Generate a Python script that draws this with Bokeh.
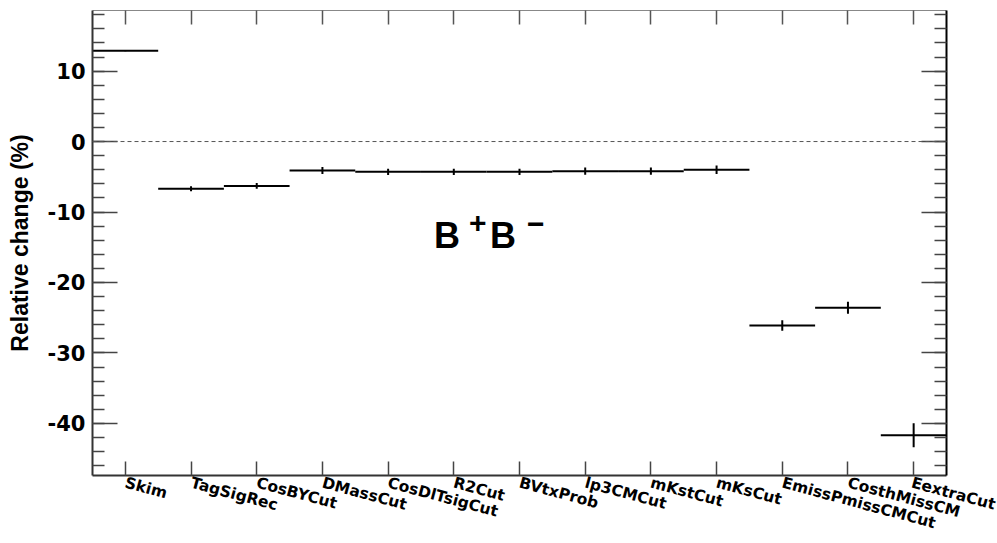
import math
import numpy as np
from bokeh.plotting import figure
from bokeh.models import FixedTicker, LinearAxis, Span, Label, Range1d, CustomJSTickFormatter
from bokeh.embed import file_html
from bokeh.resources import INLINE

# ---- data ----
cuts = ["Skim", "TagSigRec", "CosBYCut", "DMassCut", "CosDlTsigCut", "R2Cut", "BVtxProb",
        "lp3CMCut", "mKstCut", "mKsCut", "EmissPmissCMCut", "CosthMissCM", "EextraCut"]
rel_change = [12.9, -6.7, -6.3, -4.1, -4.3, -4.3, -4.3, -4.2, -4.2, -4.0, -26.1, -23.6, -41.7]
rel_error = [0.1, 0.35, 0.4, 0.5, 0.45, 0.45, 0.45, 0.5, 0.5, 0.6, 0.75, 0.85, 1.7]
y_ticks = [-40, -30, -20, -10, 0, 10]
y_tick_labels = ["-40", "-30", "-20", "-10", "0", "10"]
y_minor = list(range(-48, 19, 2))
y_min, y_max = -47.4, 18.6

n = len(cuts)
left = np.arange(n, dtype=float)
right = left + 1.0
centers = left + 0.5
vals = np.array(rel_change)
errs = np.array(rel_error)

p = figure(width=997, height=543, x_range=Range1d(0, n), y_range=Range1d(y_min, y_max),
           output_backend="svg", toolbar_location=None,
           min_border_left=92, min_border_right=51, min_border_top=10, min_border_bottom=56)
p.xgrid.visible = False
p.ygrid.visible = False
p.outline_line_color = None

blank = CustomJSTickFormatter(code="return ''")

# left axis
ya = p.yaxis[0]
ya.ticker = FixedTicker(ticks=y_ticks, minor_ticks=y_minor)
ya.major_label_overrides = {t: s for t, s in zip(y_ticks, y_tick_labels)}
ya.major_tick_in = 25
ya.major_tick_out = 0
ya.minor_tick_in = 12
ya.minor_tick_out = 0
ya.major_tick_line_color = "#444"
ya.minor_tick_line_color = "#444"
ya.major_tick_line_width = 1.5
ya.minor_tick_line_width = 1.5
ya.axis_line_color = "#333"
ya.axis_line_width = 2
ya.major_label_standoff = 7
ya.major_label_text_font = "DejaVu Sans"
ya.major_label_text_font_style = "bold"
ya.major_label_text_font_size = "21px"
ya.major_label_text_color = "black"
ya.axis_label = "Relative change (%)"
ya.axis_label_text_font = "Liberation Sans"
ya.axis_label_text_font_style = "bold"
ya.axis_label_text_font_size = "23px"
ya.axis_label_text_color = "black"
ya.axis_label_standoff = 12

# right axis (ticks only)
ra = LinearAxis(ticker=FixedTicker(ticks=y_ticks, minor_ticks=y_minor), formatter=blank,
                major_tick_in=25, major_tick_out=0, minor_tick_in=12, minor_tick_out=0,
                major_tick_line_color="#444", minor_tick_line_color="#444",
                major_tick_line_width=1.5, minor_tick_line_width=1.5,
                axis_line_color="black", axis_line_width=2,
                major_label_text_font_size="0px", major_label_standoff=0)
p.add_layout(ra, "right")

# bottom axis with slanted bin names
xa = p.xaxis[0]
xa.ticker = FixedTicker(ticks=list(centers), minor_ticks=[])
xa.major_label_overrides = {float(c): s for c, s in zip(centers, cuts)}
xa.major_label_orientation = -15 * math.pi / 180
xa.major_tick_in = 14
xa.major_tick_out = 0
xa.minor_tick_line_color = None
xa.major_tick_line_color = "#444"
xa.major_tick_line_width = 1.5
xa.axis_line_color = "#333"
xa.axis_line_width = 2
xa.major_label_standoff = 7
xa.major_label_text_font = "DejaVu Sans"
xa.major_label_text_font_style = "bold"
xa.major_label_text_font_size = "15.5px"
xa.major_label_text_color = "black"

# top axis (ticks only)
ta = LinearAxis(ticker=FixedTicker(ticks=list(centers), minor_ticks=[]), formatter=blank,
                major_tick_in=14, major_tick_out=0, minor_tick_line_color=None,
                major_tick_line_color="#555", major_tick_line_width=1.5,
                axis_line_color="#888", axis_line_width=1,
                major_label_text_font_size="0px", major_label_standoff=0)
p.add_layout(ta, "above")

# zero line
p.add_layout(Span(location=0, dimension="width", line_color="#555",
                  line_dash="4 3", line_width=1))

# histogram bins with errors
p.segment(x0=left, x1=right, y0=vals, y1=vals, line_color="black", line_width=2)
p.segment(x0=centers, x1=centers, y0=vals - errs, y1=vals + errs, line_color="black", line_width=2)

# B+B- annotation
bx, by = 5.2, -13.3
parts = [("B", 0, 0, "36px"), ("+", 35, 12, "30px"), ("B", 56, 0, "36px"), ("\u2212", 93, 11, "30px")]
for t, dx, dy, fs in parts:
    p.add_layout(Label(x=bx, y=by, text=t, x_offset=dx, y_offset=dy,
                       text_align="left", text_baseline="alphabetic",
                       text_font="Liberation Sans", text_font_style="bold",
                       text_font_size=fs, text_color="black"))

open("out.html", "w").write(file_html(p, INLINE))
